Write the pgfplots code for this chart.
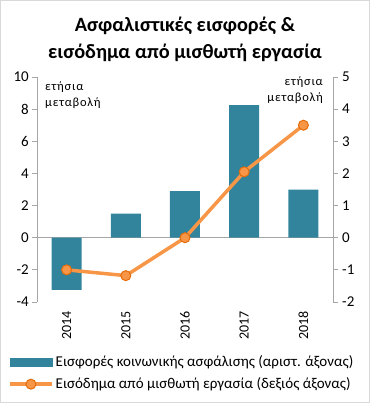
\documentclass[border=0pt]{standalone}
\usepackage{fontspec}
\setmainfont{Carlito}
\usepackage{pgfplots}
\pgfplotsset{compat=1.18}
\definecolor{barcol}{HTML}{31849B}
\definecolor{lincol}{HTML}{F79646}
\definecolor{mkedge}{HTML}{E46C0A}
\definecolor{axgray}{HTML}{A6A6A6}
\definecolor{frame}{HTML}{D9D9D9}
\pgfplotsset{
  mylineleg/.style={legend image code/.code={\draw[mark repeat=2,mark phase=2,##1] plot coordinates {(0bp,0bp) (21bp,0bp) (42bp,0bp)};}},
  mybarleg/.style={legend image code/.code={\fill[barcol] (0bp,-4bp) rectangle (42bp,4bp);}},
}
\begin{document}
\begin{tikzpicture}
\begin{axis}[
  scale only axis, width=296bp, height=225bp,
  xmin=-0.5, xmax=4.5, ymin=-4, ymax=10,
  ytick={-4,-2,...,10},
  axis y line*=left,
  axis x line*=bottom,
  x axis line style={draw=none},
  y axis line style={draw=axgray, line width=0.8bp},
  xtick={0,1,2,3,4},
  xticklabels={2014,2015,2016,2017,2018},
  xtick style={draw=none},
  ytick style={draw=axgray, line width=0.8bp},
  tick align=outside, major tick length=5bp,
  xticklabel style={rotate=90, anchor=east, font=\fontsize{14bp}{16bp}\selectfont, inner sep=4bp},
  yticklabel style={font=\fontsize{15bp}{17bp}\selectfont, inner sep=3bp},
  /pgf/number format/assume math mode=true,
  clip=false,
]
\draw[axgray, line width=0.8bp] (axis cs:-0.5,0) -- (axis cs:4.5,0);
\addplot[ybar, bar width=30bp, fill=barcol, draw=none] coordinates {
  (0,-3.25) (1,1.5) (2,2.9) (3,8.25) (4,3.0)};
\end{axis}
\begin{axis}[
  scale only axis, width=296bp, height=225bp,
  xmin=-0.5, xmax=4.5, ymin=-2, ymax=5,
  ytick={-2,-1,...,5},
  axis y line*=right,
  axis x line=none,
  y axis line style={draw=axgray, line width=0.8bp},
  ytick style={draw=axgray, line width=0.8bp},
  tick align=outside, major tick length=5bp,
  yticklabel style={font=\fontsize{15bp}{17bp}\selectfont, inner sep=4bp},
  /pgf/number format/assume math mode=true,
  clip=false,
  legend style={at={(-0.098,-0.228)}, anchor=north west, draw=none, fill=none,
    font=\fontsize{15bp}{17bp}\selectfont, inner sep=0pt, row sep=6bp,
    cells={anchor=west}},
  legend cell align=left,
]
\addlegendimage{mybarleg}
\addlegendentry{Εισφορές κοινωνικής ασφάλισης (αριστ. άξονας)}
\addplot[color=lincol, line width=3.5bp, mark=*, mark size=5bp,
  mark options={fill=lincol, draw=mkedge, line width=1bp}, mylineleg]
  coordinates {(0,-1.0) (1,-1.18) (2,0.0) (3,2.05) (4,3.5)};
\addlegendentry{Εισόδημα από μισθωτή εργασία (δεξιός άξονας)}
\end{axis}
\node[anchor=west, align=left, font=\fontsize{12.5bp}{16bp}\selectfont\addfontfeature{LetterSpace=6}, inner sep=0pt] at (8bp,207bp) {ετήσια\\μεταβολή};
\node[anchor=east, align=right, font=\fontsize{12.5bp}{16bp}\selectfont\addfontfeature{LetterSpace=6}, inner sep=0pt] at (286bp,212bp) {ετήσια\\μεταβολή};
\node[align=center, font=\fontsize{20.3bp}{27bp}\selectfont\bfseries, inner sep=0pt] at (148bp,263bp) {Ασφαλιστικές εισφορές \&\\εισόδημα από μισθωτή εργασία};
\pgfresetboundingbox
\draw[frame, line width=1bp] (-36.5bp,-100.5bp) rectangle (332.5bp,301.5bp);
\end{tikzpicture}
\end{document}
